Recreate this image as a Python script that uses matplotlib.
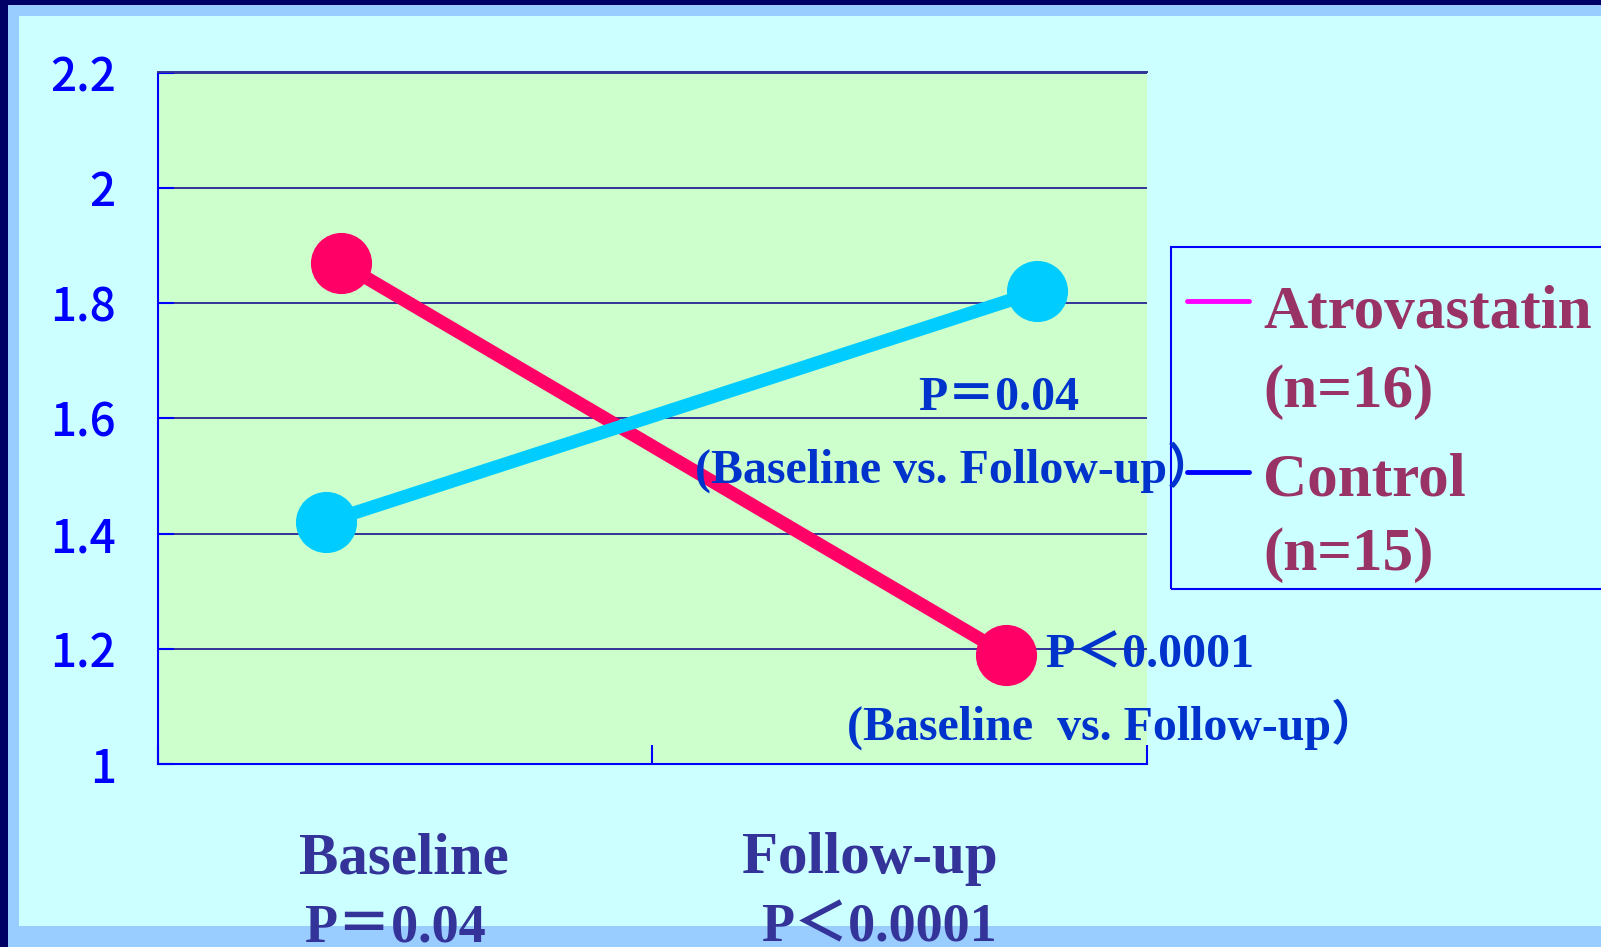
import matplotlib.pyplot as plt
from matplotlib.patches import Rectangle
from matplotlib.lines import Line2D

# Data
categories = ["Baseline", "Follow-up"]
category_p = ["P＝0.04", "P＜0.0001"]
atorva_vals = [1.87, 1.19]
control_vals = [1.42, 1.82]
atorva_x = [0.37, 1.716]
control_x = [0.341, 1.778]
y_ticks = [1, 1.2, 1.4, 1.6, 1.8, 2, 2.2]
y_ticklabels = ["1", "1.2", "1.4", "1.6", "1.8", "2", "2.2"]
legend_labels = [("Atrovastatin", "(n=16)"), ("Control", "(n=15)")]

W, H = 1601, 947


def fx(x):
    return x / W


def fy(y):
    return 1 - y / H


serif = ["Liberation Serif", "Noto Sans CJK JP"]

fig = plt.figure(figsize=(W / 100, H / 100), dpi=100, facecolor="#000066")

# slide frame
fig.add_artist(Rectangle((fx(8), 0), 1, fy(5), transform=fig.transFigure,
                         facecolor="#99CCFF", edgecolor="none", zorder=-3))
fig.add_artist(Rectangle((fx(19), fy(926)), 1, fy(16) - fy(926),
                         transform=fig.transFigure,
                         facecolor="#CCFFFF", edgecolor="none", zorder=-2))

ax = fig.add_axes([fx(157.5), fy(764), fx(1147) - fx(157.5), fy(72.5) - fy(764)])
ax.set_facecolor("#CCFFCC")
ax.set_xlim(0, 2)
ax.set_ylim(1, 2.2)

# lines
ax.plot(atorva_x, atorva_vals, color="#FF0066", lw=9.5, marker="o",
        markersize=43, solid_capstyle="butt", zorder=3)
ax.plot(control_x, control_vals, color="#00CCFF", lw=9.5, marker="o",
        markersize=43, solid_capstyle="butt", zorder=3)

# axes styling
ax.set_yticks(y_ticks)
ax.set_yticklabels(y_ticklabels, fontfamily="Noto Sans CJK JP",
                   fontweight="medium", fontsize=33, color="#0000FF")
ax.set_xticks([0, 1, 2])
ax.set_xticklabels([])
ax.tick_params(axis="y", direction="in", length=11.5, width=1.5,
               color="#0000FF", pad=30)
ax.tick_params(axis="x", direction="in", length=14, width=1.5,
               color="#0000FF")
ax.yaxis.grid(True, color="#333399", lw=1.4, zorder=1)
ax.set_axisbelow(True)
for side in ["left", "bottom"]:
    ax.spines[side].set_color("#0000FF")
    ax.spines[side].set_linewidth(1.5)
ax.spines["top"].set_color("#333399")
ax.spines["top"].set_linewidth(1.4)
ax.spines["right"].set_visible(False)

# p-value notes
note = dict(family=serif, fontweight="bold", color="#0033CC", fontsize=34.5,
            va="baseline", ha="left", zorder=5)
fig.text(fx(918), fy(410), "P＝0.04", **note)
fig.text(fx(695), fy(483), "(Baseline vs. Follow-up）", **note)
fig.text(fx(1045), fy(667), "P＜0.0001", **note)
fig.text(fx(847), fy(740), "(Baseline  vs. Follow-up）", **note)

# category labels
lab = dict(family=serif, fontweight="bold", color="#333399",
           va="baseline", ha="left", zorder=5)
fig.text(fx(299), fy(873), categories[0], fontsize=42.5, **lab)
fig.text(fx(742), fy(873), categories[1], fontsize=42.5, **lab)
fig.text(fx(304), fy(941), category_p[0], fontsize=39, **lab)
fig.text(fx(761), fy(941), category_p[1], fontsize=39, **lab)

# legend box
fig.add_artist(Rectangle((fx(1171), fy(589)), 1, fy(247) - fy(589),
                         transform=fig.transFigure, facecolor="none",
                         edgecolor="#0000FF", lw=1.5, zorder=4))
leg_colors = ["#FF00FF", "#0000FF"]
leg_rows = [(301, 328, 407), (472, 495, 570)]
for (name, n), color, (ly, b1, b2) in zip(legend_labels, leg_colors, leg_rows):
    fig.add_artist(Line2D([fx(1187), fx(1249)], [fy(ly), fy(ly)],
                          transform=fig.transFigure, color=color, lw=3.5,
                          solid_capstyle="round", zorder=6))
    fig.text(fx(1263), fy(b1), name, family=serif, fontweight="bold",
             color="#993366", fontsize=44, va="baseline", ha="left")
    fig.text(fx(1263), fy(b2), n, family=serif, fontweight="bold",
             color="#993366", fontsize=44, va="baseline", ha="left")

fig.savefig("out.png", dpi=100, facecolor=fig.get_facecolor())
